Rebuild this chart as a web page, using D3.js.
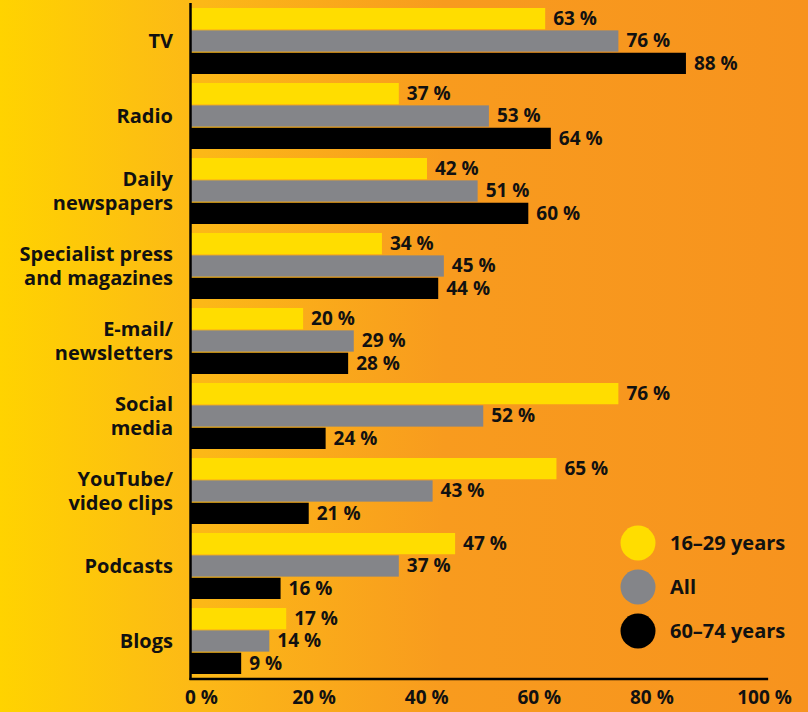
<!DOCTYPE html>
<html>
<head>
<meta charset="utf-8">
<script src="https://cdn.jsdelivr.net/npm/d3@7"></script>
<style>
    html, body { margin: 0; padding: 0; }
    svg { display: block; font-family: "Open Sans", Lato, sans-serif; font-weight: 700; }
</style>
</head>
<body>
<svg id="mainFrame"></svg>
<script>
const categories = [
    ['TV'],
    ['Radio'],
    ['Daily', 'newspapers'],
    ['Specialist press', 'and magazines'],
    ['E-mail/', 'newsletters'],
    ['Social', 'media'],
    ['YouTube/', 'video clips'],
    ['Podcasts'],
    ['Blogs']
]
const seriesNames = ['16–29 years', 'All', '60–74 years']
const seriesColors = ['#ffdd00', '#848589', '#000000']

const young = [63, 37, 42, 34, 20, 76, 65, 47, 17]
const all = [76, 53, 51, 45, 29, 52, 43, 37, 14]
const old = [88, 64, 60, 44, 28, 24, 21, 16, 9]

const tickValues = [0, 20, 40, 60, 80, 100]

const width = 808
const height = 712

const svg = d3.select('#mainFrame')
    .attr('width', width)
    .attr('height', height)

// background gradient, yellow -> orange
const grad = svg.append('defs').append('linearGradient')
    .attr('id', 'bg')
    .attr('x1', 0).attr('x2', 1).attr('y1', 0).attr('y2', 0)
grad.append('stop').attr('offset', '0%').attr('stop-color', '#ffd300')
grad.append('stop').attr('offset', '25%').attr('stop-color', '#fcb817')
grad.append('stop').attr('offset', '55%').attr('stop-color', '#f89b1e')
grad.append('stop').attr('offset', '100%').attr('stop-color', '#f7931e')

svg.append('rect')
    .attr('width', width)
    .attr('height', height)
    .attr('fill', 'url(#bg)')

const keys = categories.map(c => c.join(' '))
const data = keys.map((k, i) => ({
    key: k,
    lines: categories[i],
    values: [young[i], all[i], old[i]]
}))

const x = d3.scaleLinear()
    .domain([0, 100])
    .range([190.5, 753.5])

const y = d3.scaleBand()
    .domain(keys)
    .range([3.5, 678.5])
    .paddingInner(0.12)
    .paddingOuter(0.06)

const ySub = d3.scaleBand()
    .domain(d3.range(seriesNames.length))
    .range([0, y.bandwidth()])
    .paddingInner(0.05)

const groups = svg.selectAll('g.cat')
    .data(data)
    .join('g')
    .attr('class', 'cat')
    .attr('transform', d => `translate(0,${y(d.key)})`)

groups.selectAll('rect')
    .data(d => d.values)
    .join('rect')
    .attr('x', x(0))
    .attr('y', (d, i) => ySub(i))
    .attr('width', d => x(d) - x(0))
    .attr('height', ySub.bandwidth())
    .attr('fill', (d, i) => seriesColors[i])

groups.selectAll('text.value')
    .data(d => d.values)
    .join('text')
    .attr('class', 'value')
    .attr('x', d => x(d) + 8)
    .attr('y', (d, i) => ySub(i) + ySub.bandwidth() / 2)
    .attr('dy', '0.33em')
    .attr('font-size', 19)
    .attr('fill', '#111')
    .text(d => `${d} %`)

// category labels
const catText = groups.append('text')
    .attr('x', 173)
    .attr('text-anchor', 'end')
    .attr('font-size', 20)
    .attr('fill', '#111')

catText.selectAll('tspan')
    .data(d => d.lines.map((t, i) => ({ t, i, n: d.lines.length })))
    .join('tspan')
    .attr('x', 173)
    .attr('y', d => y.bandwidth() / 2 + (d.i - (d.n - 1) / 2) * 24)
    .attr('dy', '0.33em')
    .text(d => d.t)

// axes lines
svg.append('line')
    .attr('x1', x(0)).attr('x2', x(0))
    .attr('y1', 3).attr('y2', 680)
    .attr('stroke', '#000')
    .attr('stroke-width', 2.5)

svg.append('line')
    .attr('x1', x(0) - 1).attr('x2', x(102.6))
    .attr('y1', 679).attr('y2', 679)
    .attr('stroke', '#000')
    .attr('stroke-width', 2.5)

// tick labels (sit a bit right of the value in the original)
svg.selectAll('text.tick')
    .data(tickValues)
    .join('text')
    .attr('class', 'tick')
    .attr('x', d => x(d) + 11)
    .attr('y', 704)
    .attr('text-anchor', 'middle')
    .attr('font-size', 19)
    .attr('fill', '#111')
    .text(d => `${d} %`)

// legend
const legend = svg.append('g')
    .attr('transform', 'translate(638,543)')

const legendItems = legend.selectAll('g')
    .data(seriesNames)
    .join('g')
    .attr('transform', (d, i) => `translate(0,${i * 44})`)

legendItems.append('circle')
    .attr('r', 17.5)
    .attr('fill', (d, i) => seriesColors[i])

legendItems.append('text')
    .attr('x', 32)
    .attr('dy', '0.33em')
    .attr('font-size', 20)
    .attr('fill', '#111')
    .text(d => d)
</script>
</body>
</html>
